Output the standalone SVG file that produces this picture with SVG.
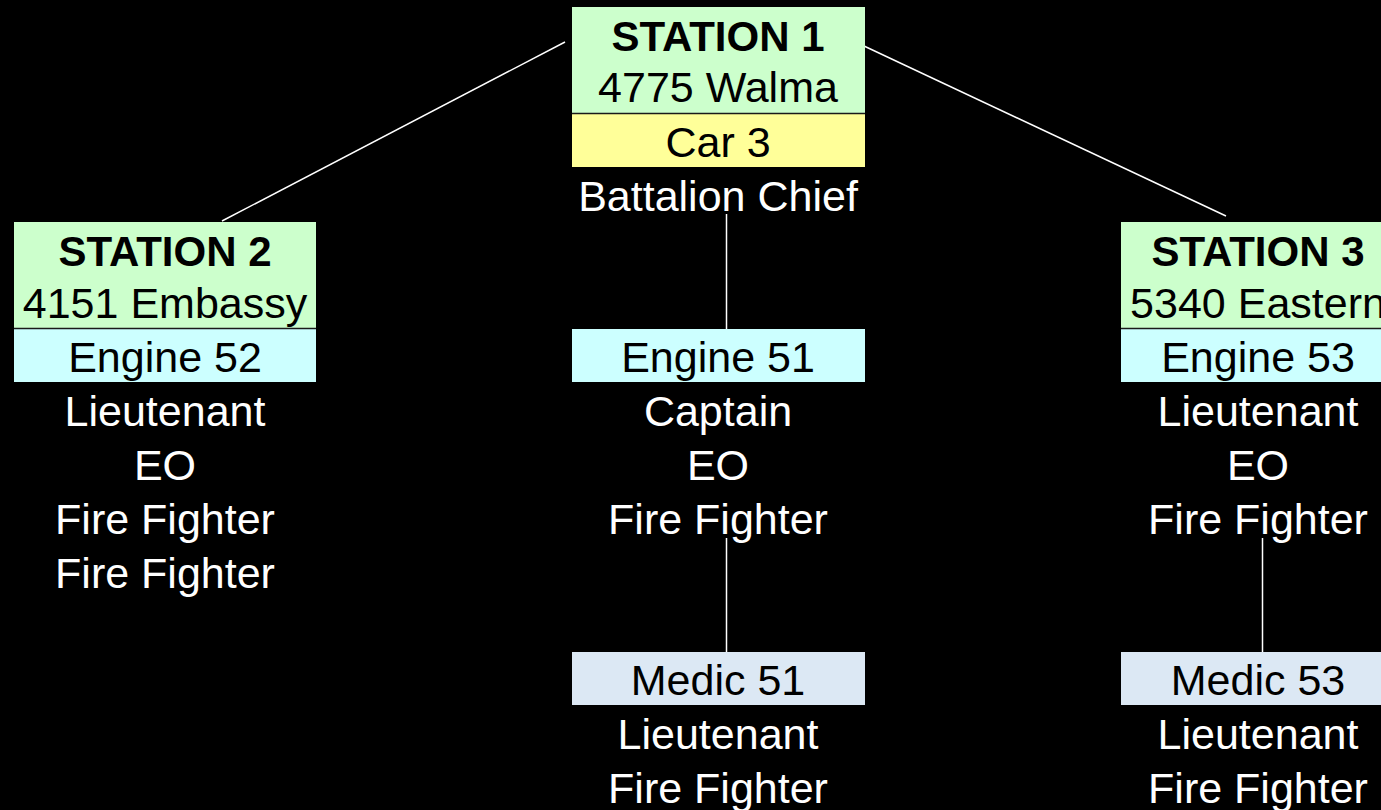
<svg xmlns="http://www.w3.org/2000/svg" width="1381" height="810" viewBox="0 0 1381 810">
<style>
text{font-family:"Liberation Sans",Arial,sans-serif;font-size:43px;text-anchor:middle}
.b{font-weight:bold;font-size:42px;fill:#000}
.k{fill:#000}
.w{fill:#fff}
.green{fill:#CCFFCC}
.yellow{fill:#FFFF99}
.cyan{fill:#CCFFFF}
.medic{fill:#DCE8F4}
.div{stroke:#1a1a1a;stroke-width:1.5}
.conn line{stroke:#fff;stroke-width:1.5}
</style>
<rect width="1381" height="810" fill="#000"/>
<g class="conn" id="connectors">
<line x1="565" y1="42" x2="222" y2="221"/>
<line x1="864" y1="46" x2="1226" y2="216"/>
<line x1="726.5" y1="214" x2="726.5" y2="330"/>
<line x1="726.5" y1="538" x2="726.5" y2="653"/>
<line x1="1262.5" y1="538" x2="1262.5" y2="653"/>
</g>
<g id="station1">
<rect class="green" x="572" y="7" width="293" height="106"/>
<rect class="yellow" x="572" y="113" width="293" height="54"/>
<line class="div" x1="572" y1="113.5" x2="865" y2="113.5"/>
<text class="b" x="718" y="51">STATION 1</text>
<text class="k" x="718" y="102">4775 Walma</text>
<text class="k" x="718" y="157">Car 3</text>
<text class="w" x="718" y="211">Battalion Chief</text>
</g>
<g id="station2">
<rect class="green" x="14" y="222" width="302" height="106"/>
<rect class="cyan" x="14" y="328" width="302" height="54"/>
<line class="div" x1="14" y1="328.5" x2="316" y2="328.5"/>
<text class="b" x="165" y="266">STATION 2</text>
<text class="k" x="165" y="318">4151 Embassy</text>
<text class="k" x="165" y="372">Engine 52</text>
<text class="w" x="165" y="426">Lieutenant</text>
<text class="w" x="165" y="480">EO</text>
<text class="w" x="165" y="534">Fire Fighter</text>
<text class="w" x="165" y="588">Fire Fighter</text>
</g>
<g id="station3">
<rect class="green" x="1121" y="222" width="275" height="106"/>
<rect class="cyan" x="1121" y="328" width="275" height="54"/>
<line class="div" x1="1121" y1="328.5" x2="1396" y2="328.5"/>
<text class="b" x="1258" y="266">STATION 3</text>
<text class="k" x="1258" y="318">5340 Eastern</text>
<text class="k" x="1258" y="372">Engine 53</text>
<text class="w" x="1258" y="426">Lieutenant</text>
<text class="w" x="1258" y="480">EO</text>
<text class="w" x="1258" y="534">Fire Fighter</text>
</g>
<g id="engine51">
<rect class="cyan" x="572" y="329" width="293" height="53"/>
<text class="k" x="718" y="372">Engine 51</text>
<text class="w" x="718" y="426">Captain</text>
<text class="w" x="718" y="480">EO</text>
<text class="w" x="718" y="534">Fire Fighter</text>
</g>
<g id="medic51">
<rect class="medic" x="572" y="652" width="293" height="53"/>
<text class="k" x="718" y="695">Medic 51</text>
<text class="w" x="718" y="749">Lieutenant</text>
<text class="w" x="718" y="803">Fire Fighter</text>
</g>
<g id="medic53">
<rect class="medic" x="1121" y="652" width="275" height="53"/>
<text class="k" x="1258" y="695">Medic 53</text>
<text class="w" x="1258" y="749">Lieutenant</text>
<text class="w" x="1258" y="803">Fire Fighter</text>
</g>
</svg>
